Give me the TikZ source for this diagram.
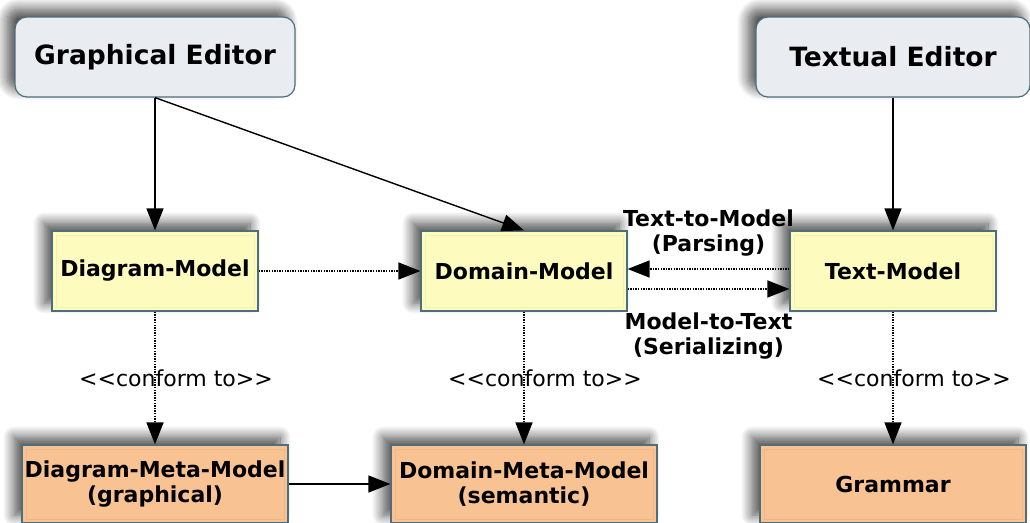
\documentclass[tikz,border=0pt]{standalone}
\usepackage{fontspec}
\setmainfont{DejaVu Sans}
\usetikzlibrary{arrows.meta,shadows.blur,positioning}
\definecolor{edfill}{HTML}{E9EDF2}
\definecolor{edbevel}{HTML}{DCE1E7}
\definecolor{boxline}{HTML}{4E6E7B}
\definecolor{mfill}{HTML}{FDFBBE}
\definecolor{mbevel}{HTML}{F3F0B2}
\definecolor{mmfill}{HTML}{F8C293}
\definecolor{mmbevel}{HTML}{EFB888}
\tikzset{
  box/.style={draw=boxline, line width=1.2pt, inner sep=0pt, align=center,
    font=\bfseries\fontsize{22}{25}\selectfont,
    blur shadow={shadow xshift=-8pt, shadow yshift=8pt, shadow blur radius=11pt,
      shadow blur steps=14, shadow opacity=70}},
  bevel/.style={path picture={\draw[#1, line width=1pt]
      ([shift={(4pt,4pt)}]path picture bounding box.south west) rectangle
      ([shift={(-4pt,-4pt)}]path picture bounding box.north east);}},
  editor/.style={box, fill=edfill, rounded corners=12pt, minimum width=280pt,
    minimum height=80pt, font=\bfseries\fontsize{26.5}{30}\selectfont},
  model/.style={box, fill=mfill, bevel=mbevel, minimum width=206pt, minimum height=80pt},
  meta/.style={box, fill=mmfill, bevel=mmbevel, minimum width=266pt, minimum height=78pt},
  tip/.style={-{Triangle[length=22pt,width=17pt]}},
  link/.style={tip, line width=1.4pt},
  ref/.style={tip, line width=1.4pt, dash pattern=on 1.4pt off 1.2pt},
  lbl/.style={font=\bfseries\fontsize{22}{25}\selectfont, align=center},
  conf/.style={font=\fontsize{22}{25}\selectfont},
}
\begin{document}
\begin{tikzpicture}[x=1pt, y=-1pt]
  \useasboundingbox (0,0) rectangle (1030,522);

  % editors
  \node[editor] (ge) at (155,57) {Graphical Editor};
  \node[editor, minimum width=274pt] (te) at (893,57) {Textual Editor};

  % models
  \node[model] (dia) at (155,271) {Diagram-Model};
  \node[model] (dom) at (524,271) {Domain-Model};
  \node[model] (txt) at (893,271) {Text-Model};

  % meta-models
  \node[meta] (diameta) at (155,484) {Diagram-Meta-Model\\(graphical)};
  \node[meta] (dommeta) at (524,484) {Domain-Meta-Model\\(semantic)};
  \node[meta] (gram) at (893,484) {Grammar};

  % editors work on models
  \draw[link] (ge.south) -- (dia.north);
  \draw[link] (ge.south) -- (dom.north);
  \draw[link] (te.south) -- (txt.north);

  % model relations
  \draw[ref] (dia.east) -- (dom.west);
  \draw[ref] ([yshift=2pt]txt.west) -- ([yshift=2pt]txt.west -| dom.east)
    node[lbl, midway, above=9pt] {Text-to-Model\\(Parsing)};
  \draw[ref] ([yshift=-18pt]dom.east) -- ([yshift=-18pt]dom.east -| txt.west)
    node[lbl, midway, below=20pt] {Model-to-Text\\(Serializing)};

  % conformance (kerns keep the angle brackets from merging into guillemets)
  \draw[ref] (dia.south) -- (diameta.north)
    node[conf, midway, xshift=21pt] {<\kern0pt<conform to>\kern0pt>};
  \draw[ref] (dom.south) -- (dommeta.north)
    node[conf, midway, xshift=21pt] {<\kern0pt<conform to>\kern0pt>};
  \draw[ref] (txt.south) -- (gram.north)
    node[conf, midway, xshift=21pt] {<\kern0pt<conform to>\kern0pt>};

  % meta-model dependency
  \draw[link] (diameta.east) -- (dommeta.west);
\end{tikzpicture}
\end{document}
